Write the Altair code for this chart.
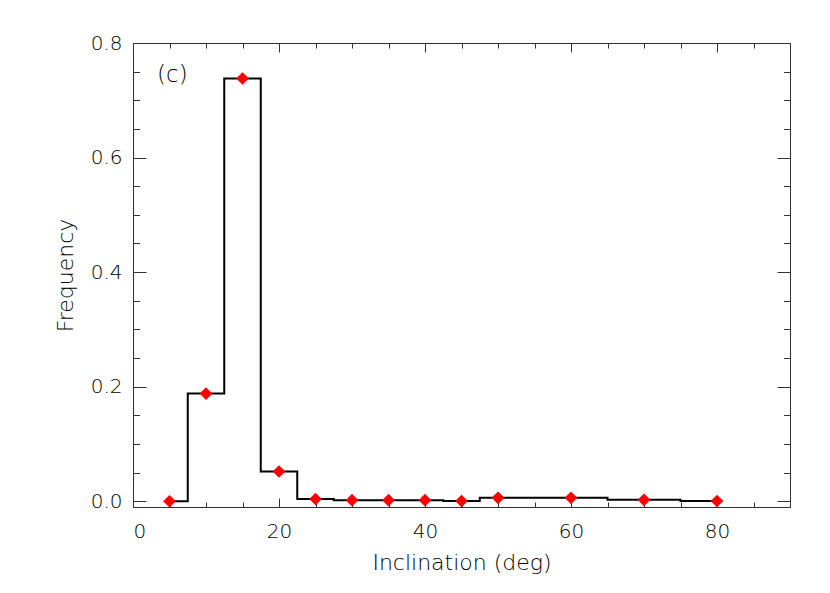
import altair as alt
import pandas as pd

# Data
inclination = [5, 10, 15, 20, 25, 30, 35, 40, 45, 50, 60, 70, 80]
frequency = [0.0, 0.188, 0.738, 0.052, 0.004, 0.002, 0.002, 0.002, 0.0005, 0.006, 0.006, 0.0025, 0.0005]

x_major = [0, 20, 40, 60, 80]
x_minor = [5 * i for i in range(0, 19)]
y_major = [0.0, 0.2, 0.4, 0.6, 0.8]
y_minor = [round(0.05 * i, 2) for i in range(0, 17)]

panel_label = ["(c)"]
panel_label_x = [3.3]
panel_label_y = [0.745]

df = pd.DataFrame({"x": inclination, "y": frequency})
ann = pd.DataFrame({"x": panel_label_x, "y": panel_label_y, "t": panel_label})

FONT = "DejaVu Sans"
AX = "#333333"

xs = alt.Scale(domain=[0, 90], nice=False, zero=False)
ys = alt.Scale(domain=[-0.01, 0.8], nice=False, zero=False)

common = dict(domain=False, grid=False, tickColor=AX, tickWidth=1,
              labelFont=FONT, labelFontSize=20, labelColor="black", labelFontWeight=200,
              titleFont=FONT, titleFontSize=22, titleColor="black",
              titleFontWeight=200)

ax_bottom_major = alt.Axis(orient="bottom", values=x_major, format="d", offset=-9, tickSize=9,
                           labelPadding=14, title="Inclination (deg)",
                           titleBaseline="middle", titleY=64, **common)
ax_bottom_minor = alt.Axis(orient="bottom", values=x_minor, offset=-5, tickSize=5,
                           labels=False, title=None, **common)
ax_top_major = alt.Axis(orient="top", values=x_major, offset=-9, tickSize=9,
                        labels=False, title=None, **common)
ax_top_minor = alt.Axis(orient="top", values=x_minor, offset=-5, tickSize=5,
                        labels=False, title=None, **common)

ay_left_major = alt.Axis(orient="left", values=y_major, format=".1f", offset=-13, tickSize=13,
                         labelPadding=11, title="Frequency", titleAngle=270,
                         titleBaseline="middle", titleAlign="center", titleX=-81, titleY=232,
                         **common)
ay_left_minor = alt.Axis(orient="left", values=y_minor, offset=-6.5, tickSize=6.5,
                         labels=False, title=None, **common)
ay_right_major = alt.Axis(orient="right", values=y_major, offset=-13, tickSize=13,
                          labels=False, title=None, **common)
ay_right_minor = alt.Axis(orient="right", values=y_minor, offset=-6.5, tickSize=6.5,
                          labels=False, title=None, **common)

base = alt.Chart(df)

line = base.mark_line(interpolate="step", color="black", strokeWidth=2).encode(
    x=alt.X("x:Q", scale=xs, axis=ax_bottom_major),
    y=alt.Y("y:Q", scale=ys, axis=ay_left_major),
)
pts = base.mark_point(shape="diamond", filled=True, color="#ff0000", size=160, opacity=1).encode(
    x=alt.X("x:Q", scale=xs, axis=ax_bottom_minor),
    y=alt.Y("y:Q", scale=ys, axis=ay_left_minor),
)
g1 = base.mark_point(opacity=0).encode(
    x=alt.X("x:Q", scale=xs, axis=ax_top_major),
    y=alt.Y("y:Q", scale=ys, axis=ay_right_major),
)
g2 = base.mark_point(opacity=0).encode(
    x=alt.X("x:Q", scale=xs, axis=ax_top_minor),
    y=alt.Y("y:Q", scale=ys, axis=ay_right_minor),
)
label = alt.Chart(ann).mark_text(align="left", baseline="middle", font=FONT, fontSize=23,
                                 fontWeight=200, color="black").encode(
    x=alt.X("x:Q", scale=xs, axis=None),
    y=alt.Y("y:Q", scale=ys, axis=None),
    text="t:N",
)

chart = alt.layer(line, pts, g1, g2, label).resolve_axis(
    x="independent", y="independent"
).properties(
    width=657, height=464,
    padding={"left": 125, "top": 35, "right": 30, "bottom": 70},
    autosize=alt.AutoSizeParams(type="none"),
    background="white",
).configure_view(stroke=AX, strokeWidth=1)

chart.save("out.html", embed_options={"renderer": "svg", "actions": False})
